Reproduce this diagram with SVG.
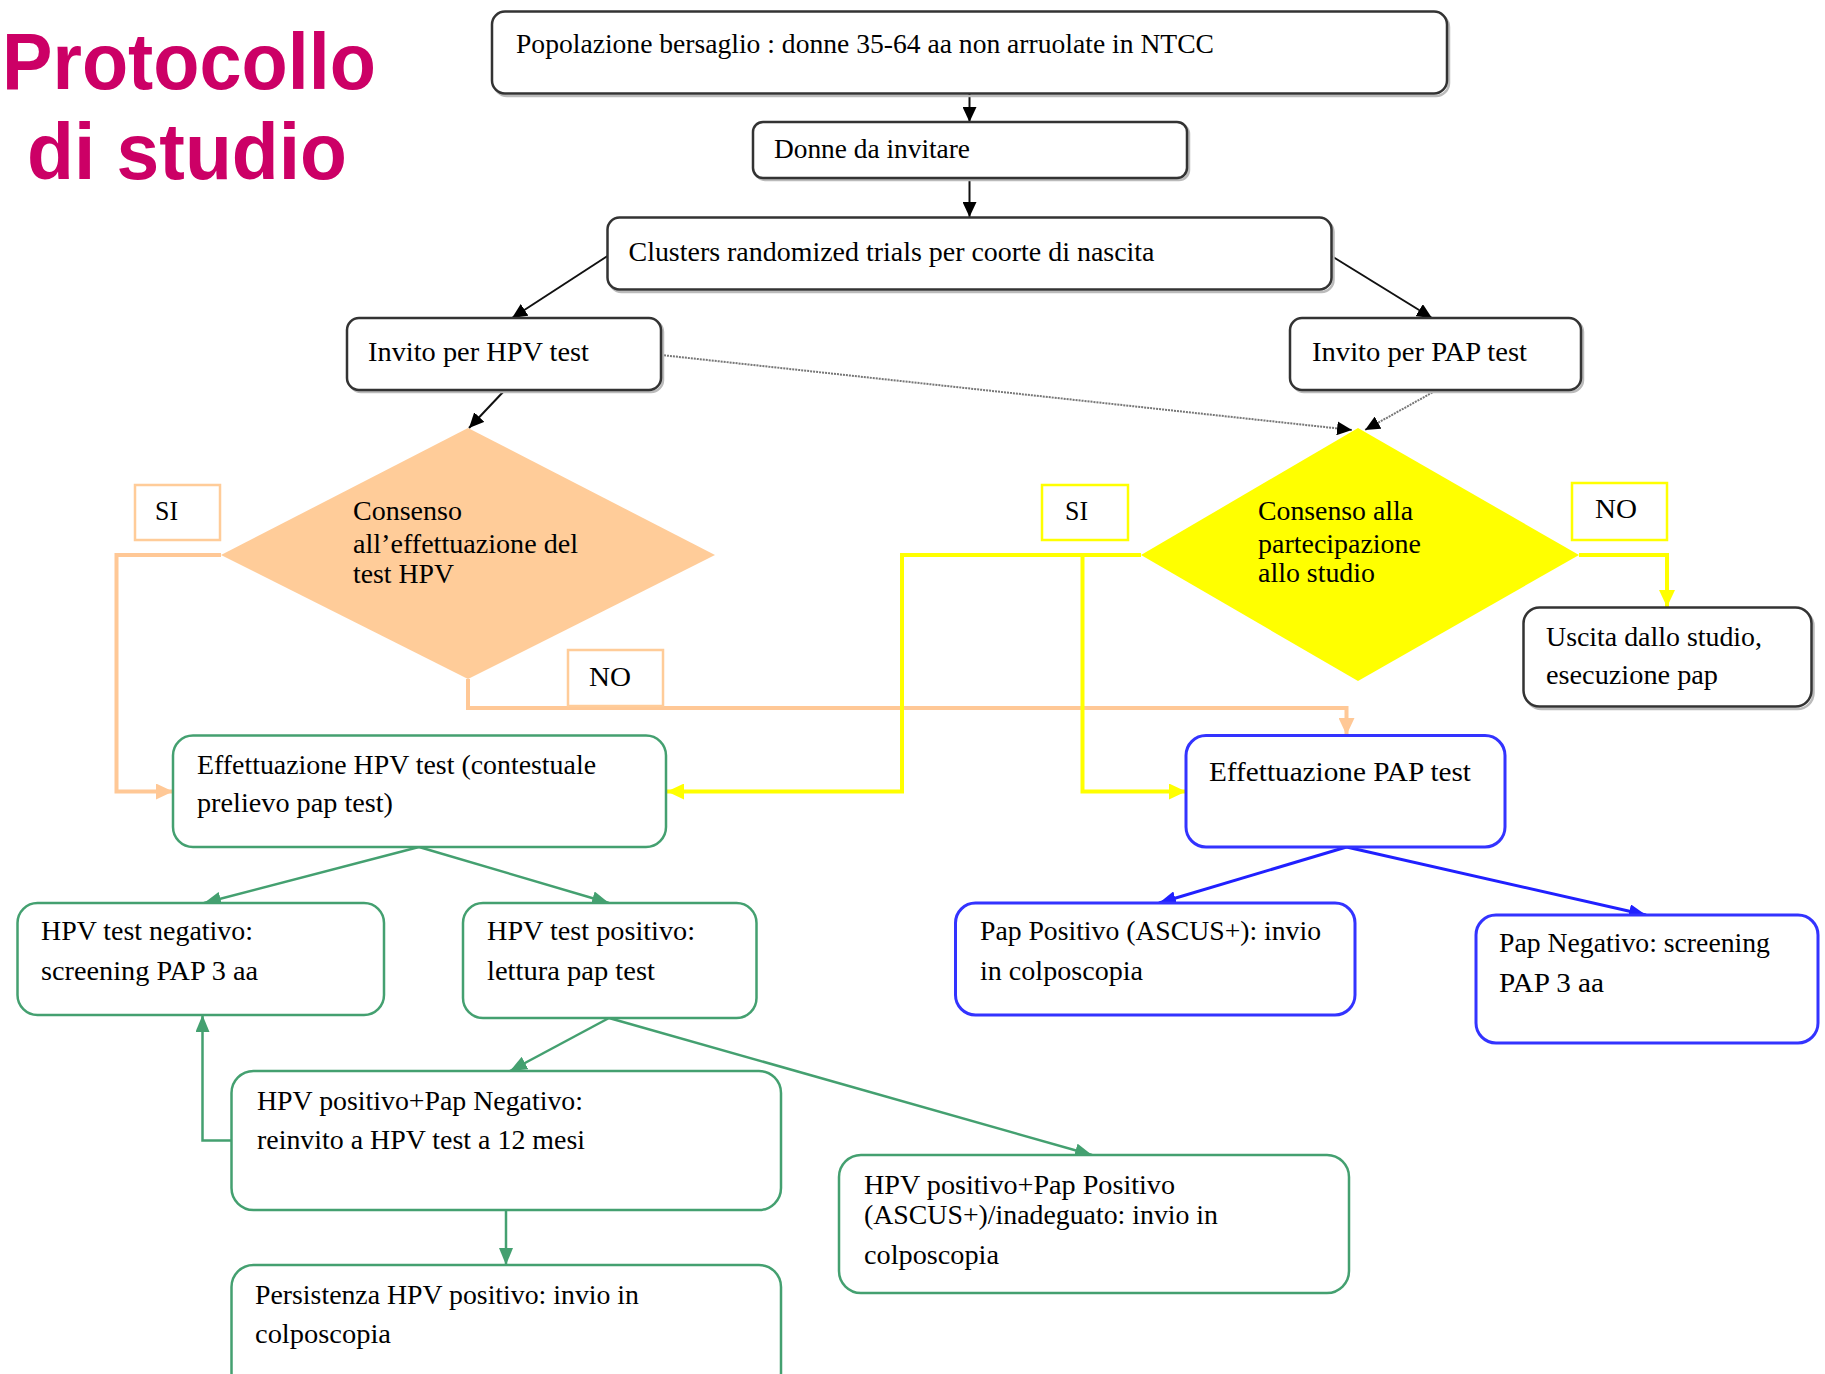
<svg xmlns="http://www.w3.org/2000/svg" width="1825" height="1374" viewBox="0 0 1825 1374">
<style>
text{font-family:"Liberation Serif","Times New Roman",serif;font-size:27px;fill:#000}
.title{font-family:"Liberation Sans",Arial,sans-serif;font-weight:bold;font-size:80px;fill:#CC0066}
.bk{fill:#fff;stroke:#333;stroke-width:2.5}
.sh{fill:none;stroke:#bbb;stroke-width:2.5}
.gr{fill:#fff;stroke:#44A070;stroke-width:2.5}
.bl{fill:#fff;stroke:#3333FF;stroke-width:3}
.lblo{fill:#fff;stroke:#FFCC99;stroke-width:2.5}
.lbly{fill:#fff;stroke:#FFFF00;stroke-width:2.5}
.cb{fill:none;stroke:#111;stroke-width:2}
.cd{fill:none;stroke:#777;stroke-width:2;stroke-dasharray:2 1}
.co{fill:none;stroke:#FFC896;stroke-width:4}
.cy{fill:none;stroke:#FFFF00;stroke-width:4}
.cg{fill:none;stroke:#44A070;stroke-width:2.5}
.cbl{fill:none;stroke:#2020FF;stroke-width:3}
</style>
<defs>
<marker id="ab" markerUnits="userSpaceOnUse" markerWidth="16" markerHeight="14" refX="15" refY="7" orient="auto"><path d="M0,0 L15,7 L0,14 z" fill="#000"/></marker>
<marker id="ao" markerUnits="userSpaceOnUse" markerWidth="18" markerHeight="16" refX="17" refY="8" orient="auto"><path d="M0,0 L17,8 L0,16 z" fill="#FFC896"/></marker>
<marker id="ay" markerUnits="userSpaceOnUse" markerWidth="18" markerHeight="16" refX="17" refY="8" orient="auto"><path d="M0,0 L17,8 L0,16 z" fill="#FFFF00"/></marker>
<marker id="ag" markerUnits="userSpaceOnUse" markerWidth="18" markerHeight="14" refX="17" refY="7" orient="auto"><path d="M0,0 L17,7 L0,14 z" fill="#44A070"/></marker>
<marker id="abl" markerUnits="userSpaceOnUse" markerWidth="18" markerHeight="14" refX="17" refY="7" orient="auto"><path d="M0,0 L17,7 L0,14 z" fill="#2020FF"/></marker>
</defs>

<g id="title">
<text class="title" x="2" y="89" textLength="374" lengthAdjust="spacingAndGlyphs">Protocollo</text>
<text class="title" x="27" y="179" textLength="320" lengthAdjust="spacingAndGlyphs">di studio</text>
</g>

<g id="connectors">
<line class="cb" x1="969.5" y1="94" x2="969.5" y2="122" marker-end="url(#ab)"/>
<line class="cb" x1="969.5" y1="178" x2="969.5" y2="217" marker-end="url(#ab)"/>
<line class="cb" x1="607.5" y1="256" x2="512" y2="318" marker-end="url(#ab)"/>
<line class="cb" x1="1331.5" y1="256" x2="1432" y2="318" marker-end="url(#ab)"/>
<line class="cb" x1="504" y1="391" x2="469" y2="428" marker-end="url(#ab)"/>
<line class="cd" x1="661" y1="355" x2="1352" y2="430" marker-end="url(#ab)"/>
<line class="cd" x1="1435" y1="391" x2="1365" y2="430" marker-end="url(#ab)"/>
<polyline class="co" points="221,555 116.5,555 116.5,791.5 173,791.5" marker-end="url(#ao)"/>
<polyline class="co" points="468,679 468,708 1346.5,708 1346.5,735" marker-end="url(#ao)"/>
<polyline class="cy" points="1141,555 902,555 902,791.5 667,791.5" marker-end="url(#ay)"/>
<polyline class="cy" points="1082.5,555 1082.5,791.5 1186,791.5" marker-end="url(#ay)"/>
<polyline class="cy" points="1579,555 1667,555 1667,607" marker-end="url(#ay)"/>
<line class="cg" x1="419" y1="847" x2="204" y2="903" marker-end="url(#ag)"/>
<line class="cg" x1="419" y1="847" x2="609" y2="903" marker-end="url(#ag)"/>
<line class="cg" x1="609" y1="1018" x2="510" y2="1071" marker-end="url(#ag)"/>
<line class="cg" x1="609" y1="1018" x2="1092" y2="1155" marker-end="url(#ag)"/>
<polyline class="cg" points="231.5,1140.5 202.5,1140.5 202.5,1015" marker-end="url(#ag)"/>
<line class="cg" x1="506" y1="1210" x2="506" y2="1265" marker-end="url(#ag)"/>
<line class="cbl" x1="1346.5" y1="847" x2="1159" y2="903" marker-end="url(#abl)"/>
<line class="cbl" x1="1346.5" y1="847" x2="1646" y2="915" marker-end="url(#abl)"/>
</g>

<g id="n-popolazione">
<rect class="sh" x="494" y="14" width="955" height="82" rx="13"/>
<rect class="bk" x="492" y="11.5" width="955" height="82" rx="13"/>
<text x="516" y="53" textLength="698" lengthAdjust="spacingAndGlyphs">Popolazione bersaglio : donne 35-64 aa non arruolate in NTCC</text>
</g>
<g id="n-donne">
<rect class="sh" x="755" y="124" width="434" height="56" rx="10"/>
<rect class="bk" x="753" y="122" width="434" height="56" rx="10"/>
<text x="774" y="158" textLength="196" lengthAdjust="spacingAndGlyphs">Donne da invitare</text>
</g>
<g id="n-clusters">
<rect class="sh" x="609.5" y="220" width="724" height="72" rx="12"/>
<rect class="bk" x="607.5" y="217.5" width="724" height="72" rx="12"/>
<text x="628.5" y="261" textLength="526" lengthAdjust="spacingAndGlyphs">Clusters randomized trials per coorte di nascita</text>
</g>
<g id="n-invito-hpv">
<rect class="sh" x="349" y="320" width="314" height="72" rx="12"/>
<rect class="bk" x="347" y="318" width="314" height="72" rx="12"/>
<text x="368" y="361" textLength="221" lengthAdjust="spacingAndGlyphs">Invito per HPV test</text>
</g>
<g id="n-invito-pap">
<rect class="sh" x="1292" y="320" width="291" height="72" rx="12"/>
<rect class="bk" x="1290" y="318" width="291" height="72" rx="12"/>
<text x="1312" y="361" textLength="215" lengthAdjust="spacingAndGlyphs">Invito per PAP test</text>
</g>

<g id="n-consenso-hpv">
<polygon points="468,428 715,555 468,679 221,555" fill="#FFCC99"/>
<text x="353" y="520" textLength="109" lengthAdjust="spacingAndGlyphs">Consenso</text>
<text x="353" y="553" textLength="225" lengthAdjust="spacingAndGlyphs">all’effettuazione del</text>
<text x="353" y="583" textLength="101" lengthAdjust="spacingAndGlyphs">test HPV</text>
</g>
<g id="n-consenso-studio">
<polygon points="1358,428 1579,555 1358,681 1141,555" fill="#FFFF00"/>
<text x="1258" y="520" textLength="155" lengthAdjust="spacingAndGlyphs">Consenso alla</text>
<text x="1258" y="553" textLength="163" lengthAdjust="spacingAndGlyphs">partecipazione</text>
<text x="1258" y="582" textLength="117" lengthAdjust="spacingAndGlyphs">allo studio</text>
</g>

<g id="l-si-hpv">
<rect class="lblo" x="135" y="485" width="85" height="55"/>
<text x="155" y="520" textLength="23" lengthAdjust="spacingAndGlyphs">SI</text>
</g>
<g id="l-no-hpv">
<rect class="lblo" x="568" y="650" width="95" height="56"/>
<text x="589" y="686" textLength="42" lengthAdjust="spacingAndGlyphs">NO</text>
</g>
<g id="l-si-studio">
<rect class="lbly" x="1042" y="485" width="86" height="55"/>
<text x="1065" y="520" textLength="23" lengthAdjust="spacingAndGlyphs">SI</text>
</g>
<g id="l-no-studio">
<rect class="lbly" x="1572" y="483" width="95" height="57"/>
<text x="1595" y="518" textLength="42" lengthAdjust="spacingAndGlyphs">NO</text>
</g>

<g id="n-uscita">
<rect class="sh" x="1525.5" y="610" width="288" height="99" rx="16"/>
<rect class="bk" x="1523.5" y="607.5" width="288" height="99" rx="16"/>
<text x="1546" y="646" textLength="216" lengthAdjust="spacingAndGlyphs">Uscita dallo studio,</text>
<text x="1546" y="684" textLength="172" lengthAdjust="spacingAndGlyphs">esecuzione pap</text>
</g>

<g id="n-eff-hpv">
<rect class="gr" x="173" y="735.5" width="493" height="111.5" rx="20"/>
<text x="197" y="774" textLength="399" lengthAdjust="spacingAndGlyphs">Effettuazione HPV test (contestuale</text>
<text x="197" y="812" textLength="196" lengthAdjust="spacingAndGlyphs">prelievo pap test)</text>
</g>
<g id="n-eff-pap">
<rect class="bl" x="1186" y="735.5" width="319" height="111.5" rx="20"/>
<text x="1209" y="781" textLength="262" lengthAdjust="spacingAndGlyphs">Effettuazione  PAP test</text>
</g>

<g id="n-hpv-neg">
<rect class="gr" x="17.5" y="903" width="366.5" height="112" rx="20"/>
<text x="41" y="940" textLength="212" lengthAdjust="spacingAndGlyphs">HPV test negativo:</text>
<text x="41" y="980" textLength="217" lengthAdjust="spacingAndGlyphs">screening PAP 3 aa</text>
</g>
<g id="n-hpv-pos">
<rect class="gr" x="463" y="903" width="293.5" height="115" rx="20"/>
<text x="487" y="940" textLength="208" lengthAdjust="spacingAndGlyphs">HPV test positivo:</text>
<text x="487" y="980" textLength="168" lengthAdjust="spacingAndGlyphs">lettura pap test</text>
</g>
<g id="n-hpvpos-papneg">
<rect class="gr" x="231.5" y="1071" width="549.5" height="139" rx="22"/>
<text x="257" y="1110" textLength="326" lengthAdjust="spacingAndGlyphs">HPV positivo+Pap Negativo:</text>
<text x="257" y="1149" textLength="328" lengthAdjust="spacingAndGlyphs">reinvito a HPV test a 12 mesi</text>
</g>
<g id="n-persistenza">
<rect class="gr" x="231.5" y="1265" width="549.5" height="130" rx="22"/>
<text x="255" y="1304" textLength="384" lengthAdjust="spacingAndGlyphs">Persistenza HPV positivo: invio in</text>
<text x="255" y="1343" textLength="136" lengthAdjust="spacingAndGlyphs">colposcopia</text>
</g>
<g id="n-hpvpos-pappos">
<rect class="gr" x="839" y="1155" width="510" height="138" rx="22"/>
<text x="864" y="1194" textLength="311" lengthAdjust="spacingAndGlyphs">HPV positivo+Pap Positivo</text>
<text x="864" y="1224" textLength="354" lengthAdjust="spacingAndGlyphs">(ASCUS+)/inadeguato: invio in</text>
<text x="864" y="1264" textLength="135" lengthAdjust="spacingAndGlyphs">colposcopia</text>
</g>
<g id="n-pap-pos">
<rect class="bl" x="955.5" y="903" width="399.5" height="112" rx="20"/>
<text x="980" y="940" textLength="341" lengthAdjust="spacingAndGlyphs">Pap Positivo (ASCUS+): invio</text>
<text x="980" y="980" textLength="163" lengthAdjust="spacingAndGlyphs">in colposcopia</text>
</g>
<g id="n-pap-neg">
<rect class="bl" x="1476" y="915" width="342" height="128" rx="20"/>
<text x="1499" y="952" textLength="271" lengthAdjust="spacingAndGlyphs">Pap Negativo: screening</text>
<text x="1499" y="992" textLength="105" lengthAdjust="spacingAndGlyphs">PAP 3 aa</text>
</g>
</svg>
